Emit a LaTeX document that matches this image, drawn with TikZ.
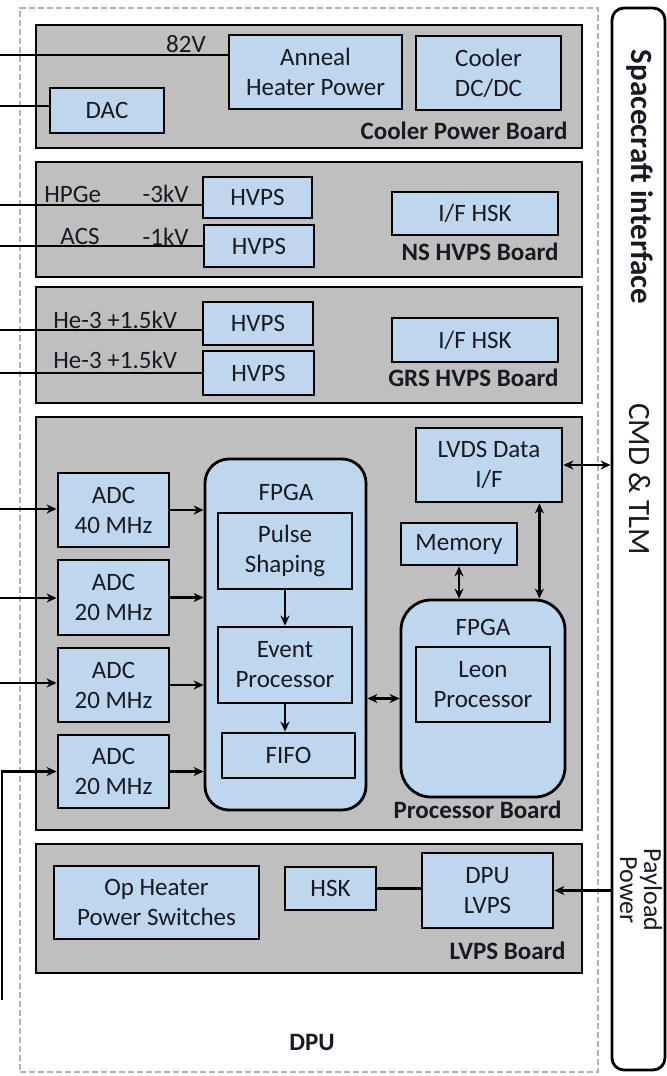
\documentclass[tikz,border=0pt]{standalone}
\usepackage{fontspec}
\setmainfont{Carlito}
\usetikzlibrary{positioning, arrows.meta}
\definecolor{boardgray}{RGB}{191,191,191}
\definecolor{boxblue}{RGB}{190,215,238}
\definecolor{ink}{RGB}{25,25,35}

\begin{document}
\begin{tikzpicture}
  [
    x=0.5pt, y=-0.5pt,
    >={Stealth[length=5pt, width=4.5pt]},
    Txt/.style={font=\fontsize{12.5}{15}\selectfont, text=ink, align=center, inner sep=1pt},
    BoldTxt/.style={Txt, font=\fontsize{12.5}{15}\selectfont\bfseries},
    Board/.style={rectangle, draw=black, fill=boardgray, line width=1.4pt},
    Box/.style={Txt, rectangle, draw=black, fill=boxblue, line width=1.4pt},
    Chip/.style={rectangle, rounded corners=12pt, draw=black, fill=boxblue, line width=1.4pt},
    Name/.style={BoldTxt, anchor=east},
    Wire/.style={line width=1.2pt}
  ]
  \useasboundingbox (0,0) rectangle (667,1076);
  % Frames
  \node[draw=gray!60, dash pattern=on 3pt off 1.5pt, line width=1pt, minimum width=289pt, minimum height=532pt] (dpu) at (309,540) {};
  \node[draw=black, rounded corners=6pt, line width=1.4pt, minimum width=26.5pt, minimum height=531pt] (sc) at (638.5,539) {};
  % Boards
  \node[Board, minimum width=273pt, minimum height=61.5pt] (cpb) at (309,86.5) {};
  \node[Board, minimum width=273pt, minimum height=57.5pt] (nsb) at (309,219.5) {};
  \node[Board, minimum width=273pt, minimum height=58pt] (grsb) at (309,345) {};
  \node[Board, minimum width=273pt, minimum height=206.5pt] (procb) at (309,623.5) {};
  \node[Board, minimum width=273pt, minimum height=64.5pt] (lvpsb) at (309,908.5) {};
  \node[Name] (cpbname) at (570,131) {Cooler Power Board};
  \node[Name] (nsbname) at (561,252) {NS HVPS Board};
  \node[Name] (grsbname) at (561,378) {GRS HVPS Board};
  \node[Name] (procbname) at (564,810) {Processor Board};
  \node[Name] (lvpsbname) at (568,951) {LVPS Board};
  % Cooler power board
  \node[Box, minimum width=86.5pt, minimum height=37pt] (anneal) at (315.5,72) {Anneal\\Heater Power};
  \node[Box, minimum width=72.5pt, minimum height=37pt] (cooldc) at (488.5,73) {Cooler\\DC/DC};
  \node[Box, minimum width=57pt, minimum height=22.5pt] (dac) at (107,110.5) {DAC};
  \node[Txt] (v82) at (186,44) {82V};
  % HVPS boards
  \node[Box, minimum width=54.5pt, minimum height=20.5pt] (hv1) at (257.5,197.5) {HVPS};
  \node[Box, minimum width=55pt, minimum height=21pt] (hv2) at (259,246) {HVPS};
  \node[Box, minimum width=83pt, minimum height=21.5pt] (ifhsk1) at (475,213.5) {I/F HSK};
  \node[Txt, anchor=west] (hpge) at (42,194) {HPGe};
  \node[Txt, anchor=east] (kv3) at (191,194) {-3kV};
  \node[Txt] (acs) at (80,236) {ACS};
  \node[Txt, anchor=east] (kv1) at (191,237) {-1kV};
  \node[Box, minimum width=55pt, minimum height=21.5pt] (hv3) at (258,323.5) {HVPS};
  \node[Box, minimum width=55.5pt, minimum height=22pt] (hv4) at (258.5,373) {HVPS};
  \node[Box, minimum width=83pt, minimum height=22pt] (ifhsk2) at (475,340) {I/F HSK};
  \node[Txt, anchor=west] (he1) at (51,320) {He-3 +1.5kV};
  \node[Txt, anchor=west] (he2) at (51,360) {He-3 +1.5kV};
  % Processor board
  \node[Box, minimum width=55.5pt, minimum height=37pt] (adc1) at (113.5,510) {ADC\\40 MHz};
  \node[Box, minimum width=55.5pt, minimum height=37.5pt] (adc2) at (113.5,597.5) {ADC\\20 MHz};
  \node[Box, minimum width=55.5pt, minimum height=37pt] (adc3) at (113.5,685) {ADC\\20 MHz};
  \node[Box, minimum width=55.5pt, minimum height=36.5pt] (adc4) at (113.5,771.5) {ADC\\20 MHz};
  \node[Chip, minimum width=80.5pt, minimum height=175.5pt] (fpga1) at (285.5,634.5) {};
  \node[Txt] (fpga1name) at (286,492) {FPGA};
  \node[Box, minimum width=67pt, minimum height=38pt] (pulse) at (285,551) {Pulse\\Shaping};
  \node[Box, minimum width=67pt, minimum height=38pt] (event) at (285,665) {Event\\Processor};
  \node[Box, minimum width=66.5pt, minimum height=22.5pt] (fifo) at (288.5,755.5) {FIFO};
  \node[Box, minimum width=73pt, minimum height=37pt] (lvds) at (489,465) {LVDS Data\\I/F};
  \node[Box, minimum width=58pt, minimum height=21pt] (mem) at (459,544) {Memory};
  \node[Chip, rounded corners=15pt, minimum width=82pt, minimum height=98.5pt] (fpga2) at (483,698.5) {};
  \node[Txt] (fpga2name) at (483,627) {FPGA};
  \node[Box, minimum width=67pt, minimum height=37.5pt] (leon) at (483,684.5) {Leon\\Processor};
  % LVPS board
  \node[Box, minimum width=102.5pt, minimum height=36.5pt] (ophtr) at (156.5,902.5) {Op Heater\\Power Switches};
  \node[Box, minimum width=45.5pt, minimum height=21.5pt] (hsk) at (330.5,888.5) {HSK};
  \node[Box, minimum width=65.5pt, minimum height=37.5pt] (dpulvps) at (487.5,890.5) {DPU\\LVPS};
  % Outer texts
  \node[BoldTxt] (dpuname) at (312,1042) {DPU};
  \node[BoldTxt, rotate=-90, font=\fontsize{15.5}{18}\selectfont\bfseries] (scname) at (640,177) {Spacecraft interface};
  \node[Txt, rotate=-90, font=\fontsize{15.5}{18}\selectfont] (cmd) at (640,479) {CMD \& TLM};
  \node[Txt, rotate=-90, font=\fontsize{13}{12}\selectfont] (pwr) at (641,890) {Payload\\Power};
  % Free ends
  \coordinate (in82) at (0,55);
  \coordinate (indac) at (0,106);
  \coordinate (inhp) at (0,205);
  \coordinate (inacs) at (0,246);
  \coordinate (inhe1) at (0,330);
  \coordinate (inhe2) at (0,373);
  \coordinate (ina1) at (0,509);
  \coordinate (ina2) at (0,598);
  \coordinate (ina3) at (0,683);
  \coordinate (ina4) at (2,1000);
  % Lines
  \path [draw, Wire] (in82) -- (in82 -| anneal.west);
  \path [draw, Wire] (indac) -- (indac -| dac.west);
  \path [draw, Wire] (inhp) -- (inhp -| hv1.west);
  \path [draw, Wire] (inacs) -- (inacs -| hv2.west);
  \path [draw, Wire] (inhe1) -- (inhe1 -| hv3.west);
  \path [draw, Wire] (inhe2) -- (inhe2 -| hv4.west);
  \path [->, draw, Wire] (ina1) -- (ina1 -| adc1.west);
  \path [->, draw, Wire] (ina2) -- (ina2 -| adc2.west);
  \path [->, draw, Wire] (ina3) -- (ina3 -| adc3.west);
  \path [->, draw, Wire] (ina4) |- (adc4.west);
  \path [->, draw, Wire] (adc1.east) -- (adc1.east -| fpga1.west);
  \path [->, draw, Wire] (adc2.east) -- (adc2.east -| fpga1.west);
  \path [->, draw, Wire] (adc3.east) -- (adc3.east -| fpga1.west);
  \path [->, draw, Wire] (adc4.east) -- (adc4.east -| fpga1.west);
  \path [->, draw, Wire] (pulse.south) -- (event.north);
  \path [->, draw, Wire] (event.south) -- (event.south |- fifo.north);
  \path [<->, draw, Wire] (fpga2.west -| fpga1.east) -- (fpga2.west);
  \path [<->, draw, Wire] (mem.south) -- (mem.south |- fpga2.north);
  \path [<->, draw, Wire] ([xshift=-12pt]lvds.south east) -- ([xshift=-12pt]lvds.south east |- fpga2.north);
  \path [<->, draw, Wire] (lvds.east) -- (lvds.east -| sc.west);
  \path [draw, Wire] (hsk.east) -- (hsk.east -| dpulvps.west);
  \path [->, draw, Wire] (dpulvps.east -| sc.west) -- (dpulvps.east);
\end{tikzpicture}
\end{document}
